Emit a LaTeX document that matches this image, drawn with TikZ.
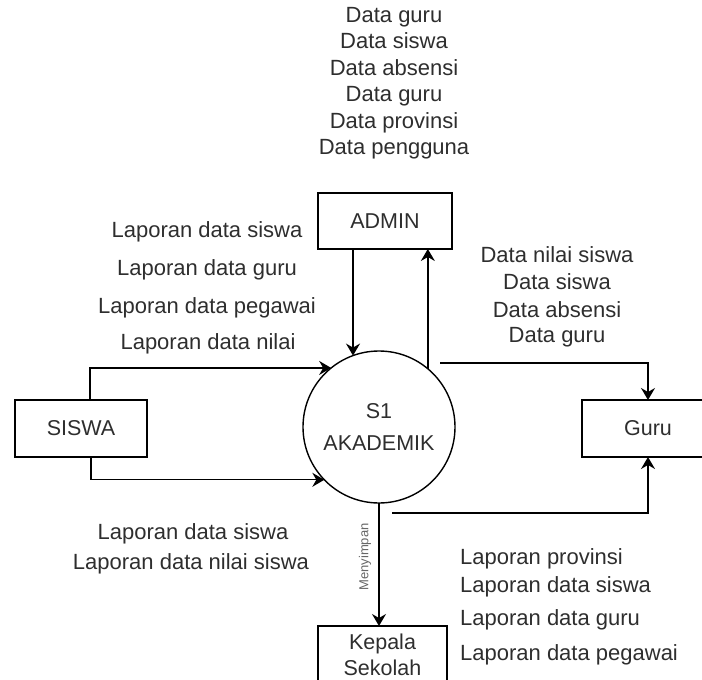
\documentclass[tikz,border=0pt]{standalone}
\usepackage{fontspec}
\setmainfont{Liberation Sans}
\usetikzlibrary{arrows.meta,calc}
\begin{document}
\begin{tikzpicture}[x=1pt,y=-1pt,
  every node/.style={text=black!82},
  box/.style={draw=black, line width=1.4pt, inner sep=0pt, outer sep=0pt,
    font=\fontsize{21.5}{26}\selectfont, align=center},
  proc/.style={draw=black, line width=1.4pt, circle, inner sep=0pt, outer sep=0pt,
    minimum size=152pt, font=\fontsize{21.5}{32}\selectfont, align=center},
  lbl/.style={font=\fontsize{22}{26}\selectfont, inner sep=0pt, anchor=base},
  lbll/.style={lbl, anchor=base west},
  small/.style={font=\fontsize{13}{15}\selectfont, inner sep=0pt, text=black!60},
  arr/.style={line width=1.4pt, -{Stealth[length=12pt,width=14pt,inset=4pt]}},
  ln/.style={line width=1.4pt}]
\useasboundingbox (0,0) rectangle (702,680);

% main nodes
\node[box, minimum width=134pt, minimum height=56pt] (admin) at (385,221) {ADMIN};
\node[box, minimum width=132pt, minimum height=57pt] (siswa) at (81,428.5) {SISWA};
\node[box, minimum width=132pt, minimum height=57pt] (guru) at (648,428.5) {Guru};
\node[box, minimum width=129pt, minimum height=58pt] (kepala) at (382.5,655) {Kepala\\Sekolah};
\node[proc] (s1) at (379,427) {S1\\AKADEMIK};

% connectors
\draw[arr] (admin.south -| s1.110.8) -- (s1.110.8);
\draw[arr] (s1.50) -- (admin.south -| s1.50);
\coordinate (su) at ([xshift=9pt]siswa.north);
\coordinate (sd) at ([xshift=10pt]siswa.south);
\draw[arr] (su) |- (s1.129);
\draw[arr] (sd) |- (s1.224.2);
\coordinate (gu) at ([xshift=61pt,yshift=64pt]s1.center);
\coordinate (gd) at ([xshift=13pt,yshift=-86pt]s1.center);
\draw[arr] (gu) -| (guru.north);
\draw[arr] (gd) -| (guru.south);
\draw[arr] (s1.south) -- (s1.south |- kepala.north);
\node[small, rotate=90] (menyimpan) at (365,557) {Menyimpan};

% labels: top block
\foreach \t [count=\i] in {Data guru, Data siswa, Data absensi, Data guru, Data provinsi, Data pengguna}
  \node[lbl] (top\i) at (394, {22+26.5*(\i-1)}) {\t};

% labels: left upper
\node[lbl] (lu1) at (207,237) {Laporan data siswa};
\node[lbl] (lu2) at (207,275) {Laporan data guru};
\node[lbl] (lu3) at (207,313) {Laporan data pegawai};
\node[lbl] (lu4) at (208,349) {Laporan data nilai};

% labels: right upper
\node[lbl] (ru1) at (557,262) {Data nilai siswa};
\node[lbl] (ru2) at (557,289) {Data siswa};
\node[lbl] (ru3) at (557,317) {Data absensi};
\node[lbl] (ru4) at (557,342) {Data guru};

% labels: lower left
\node[lbl] (ll1) at (193,539) {Laporan data siswa};
\node[lbl] (ll2) at (191,569) {Laporan data nilai siswa};

% labels: lower right
\node[lbll] (rl1) at (460,564) {Laporan provinsi};
\node[lbll] (rl2) at (460,592) {Laporan data siswa};
\node[lbll] (rl3) at (460,625) {Laporan data guru};
\node[lbll] (rl4) at (460,660) {Laporan data pegawai};
\end{tikzpicture}
\end{document}
